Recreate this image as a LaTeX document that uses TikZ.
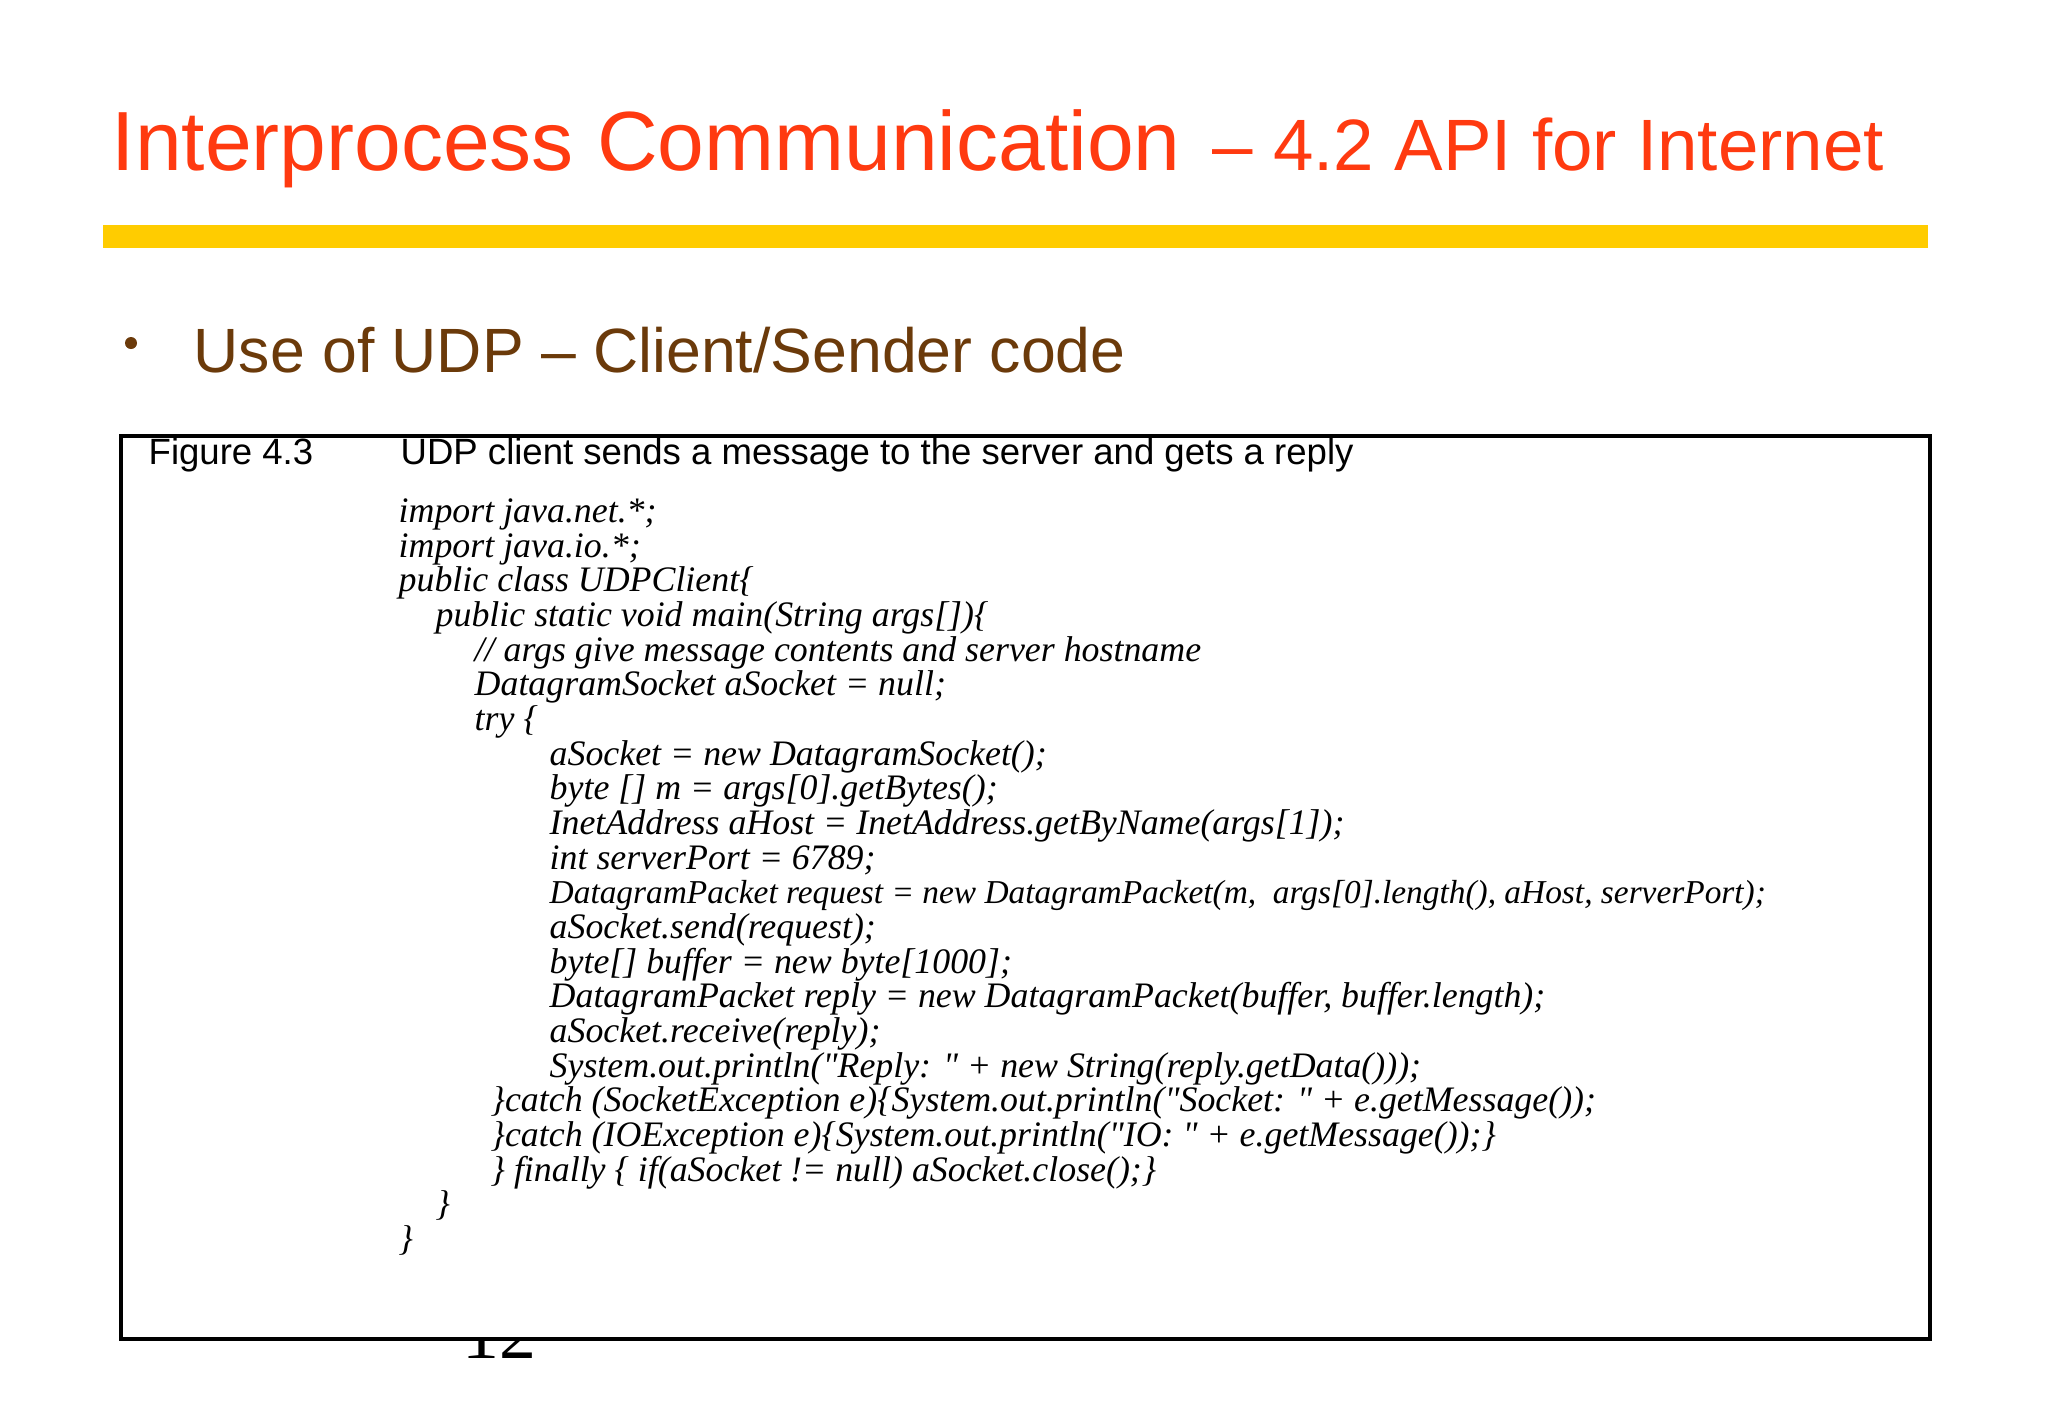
\documentclass[tikz,border=0pt]{standalone}
\usepackage{fontspec}
\setmainfont{Liberation Serif}
\newfontfamily\sans{Liberation Sans}
\newcommand{\qq}{\textquotedbl}
\definecolor{ttlred}{HTML}{FF3A10}
\definecolor{bulbrown}{HTML}{6B3A0A}
\definecolor{baryel}{HTML}{FFCC00}
\begin{document}
\begin{tikzpicture}[x=0.1mm,y=-0.1mm,
  code/.style={anchor=base west,inner sep=0,font=\fontsize{10.2}{10.2}\selectfont\itshape},
  ttl/.style={anchor=base west,inner sep=0,text=ttlred}]
\useasboundingbox (0,0) rectangle (2048,1418);
\fill[white] (0,0) rectangle (2048,1418);
\node[ttl,font=\sans\fontsize{23.9}{23.9}\selectfont] (t1) at (111,170) {Interprocess Communication};
\node[ttl,font=\sans\fontsize{20.7}{20.7}\selectfont] (t2) at (1212,170) {– 4.2 API for Internet};
\fill[baryel] (103,225) rectangle (1928,248);
\node[anchor=base west,inner sep=0,font=\sans\fontsize{17.8}{17.8}\selectfont,text=bulbrown] (b) at (193,372) {Use of UDP – Client/Sender code};
\fill[bulbrown] (131,343) circle (6);
\node[anchor=base west,inner sep=0,font=\fontsize{21}{21}\selectfont] (pg) at (462,1358) {12};
\draw[line width=0.45mm,fill=white] (121,436) rectangle (1930,1339);
\node[anchor=base west,inner sep=0,font=\sans\fontsize{10.4}{10.4}\selectfont] (fig) at (148,464) {Figure 4.3};
\node[anchor=base west,inner sep=0,font=\sans\fontsize{10.4}{10.4}\selectfont] (cap) at (400,464) {UDP client sends a message to the server and gets a reply};
\node[code] (l1) at (398,522) {import java.net.*;};
\node[code] (l2) at (398,557) {import java.io.*;};
\node[code] (l3) at (398,591) {public class UDPClient\{};
\node[code] (l4) at (435,626) {public static void main(String args[])\{};
\node[code] (l5) at (474,661) {// args give message contents and server hostname};
\node[code] (l6) at (474,695) {DatagramSocket aSocket = null;};
\node[code] (l7) at (474,730) {try \{};
\node[code] (l8) at (549,765) {aSocket = new DatagramSocket();};
\node[code] (l9) at (549,799) {byte [] m = args[0].getBytes();};
\node[code] (l10) at (549,834) {InetAddress aHost = InetAddress.getByName(args[1]);};
\node[code] (l11) at (549,869) {int serverPort = 6789;};
\node[code,font=\fontsize{9.5}{9.5}\selectfont\itshape] (l12) at (549,903) {DatagramPacket request = new DatagramPacket(m,\ \ args[0].length(), aHost, serverPort);};
\node[code] (l13) at (549,938) {aSocket.send(request);};
\node[code] (l14) at (549,973) {byte[] buffer = new byte[1000];};
\node[code] (l15) at (549,1007) {DatagramPacket reply = new DatagramPacket(buffer, buffer.length);};
\node[code] (l16) at (549,1042) {aSocket.receive(reply);};
\node[code] (l17) at (549,1077) {System.out.println(\qq Reply: \qq\ + new String(reply.getData()));};
\node[code] (l18) at (490,1111) {\}catch (SocketException e)\{System.out.println(\qq Socket: \qq\ + e.getMessage());};
\node[code] (l19) at (490,1146) {\}catch (IOException e)\{System.out.println(\qq IO: \qq\ + e.getMessage());\}};
\node[code] (l20) at (490,1181) {\} finally \{ if(aSocket != null) aSocket.close();\}};
\node[code] (l21) at (435,1215) {\}};
\node[code] (l22) at (398,1250) {\}};
\end{tikzpicture}
\end{document}
